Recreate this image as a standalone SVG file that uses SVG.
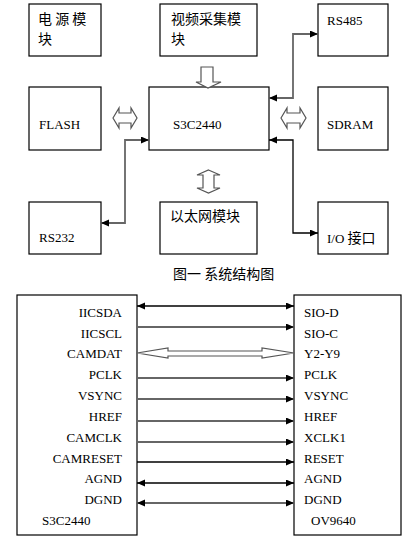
<svg xmlns="http://www.w3.org/2000/svg" width="418" height="541" viewBox="0 0 418 541">
<style>
.box{fill:#fff;stroke:#000;stroke-width:1.2}
.cn{font-family:"Noto Sans CJK SC","Noto Sans",sans-serif;font-size:14px;fill:#000}
.en{font-family:"Liberation Serif","Times New Roman",serif;font-size:13px;fill:#000}
.r{text-anchor:end}
.ln{fill:none;stroke:#000;stroke-width:1.3}
.gl{fill:none;stroke:#666;stroke-width:1.8}
.hol{fill:#fff;stroke:#555;stroke-width:1.2}
</style>
<defs>
<marker id="ah" markerUnits="userSpaceOnUse" markerWidth="9" markerHeight="9" refX="8" refY="3.5" orient="auto-start-reverse">
<path d="M0,0 L8,3.5 L0,7 z" fill="#000"/>
</marker>
</defs>
<rect width="418" height="541" fill="#fff"/>

<g id="power"><rect class="box" x="29" y="4" width="72" height="52"/><text class="cn" x="38" y="24" xml:space="preserve">电 源 模</text><text class="cn" x="38" y="44">块</text></g>
<g id="video"><rect class="box" x="160" y="4" width="97" height="52"/><text class="cn" x="171" y="24">视频采集模</text><text class="cn" x="171" y="44">块</text></g>
<g id="rs485"><rect class="box" x="318" y="4" width="70" height="52"/><text class="en" x="327" y="25">RS485</text></g>
<g id="flash"><rect class="box" x="29" y="87" width="72" height="63"/><text class="en" x="39" y="129">FLASH</text></g>
<g id="s3c2440"><rect class="box" x="149" y="87" width="120" height="63"/><text class="en" x="173" y="129">S3C2440</text></g>
<g id="sdram"><rect class="box" x="318" y="87" width="70" height="63"/><text class="en" x="327" y="129">SDRAM</text></g>
<g id="rs232"><rect class="box" x="29" y="202" width="72" height="52"/><text class="en" x="39" y="242">RS232</text></g>
<g id="ethernet"><rect class="box" x="160" y="202" width="97" height="52"/><text class="cn" x="170" y="221">以太网模块</text></g>
<g id="io"><rect class="box" x="318" y="202" width="70" height="52"/><text class="en" x="327" y="243">I/O <tspan class="cn" style="font-size:14px">接口</tspan></text></g>

<text id="caption" class="cn" x="173" y="279" xml:space="preserve">图一 系统结构图</text>

<g id="cam-s3c2440"><rect class="box" x="17" y="295" width="120" height="240"/>
<text class="en r" x="122" y="317">IICSDA</text>
<text class="en r" x="122" y="338">IICSCL</text>
<text class="en r" x="122" y="358">CAMDAT</text>
<text class="en r" x="122" y="379">PCLK</text>
<text class="en r" x="122" y="400">VSYNC</text>
<text class="en r" x="122" y="421">HREF</text>
<text class="en r" x="122" y="442">CAMCLK</text>
<text class="en r" x="122" y="463">CAMRESET</text>
<text class="en r" x="122" y="483">AGND</text>
<text class="en r" x="122" y="504">DGND</text>
<text class="en" x="42" y="525">S3C2440</text>
</g>
<g id="ov9640"><rect class="box" x="294" y="295" width="107" height="240"/>
<text class="en" x="304" y="317">SIO-D</text>
<text class="en" x="304" y="338">SIO-C</text>
<text class="en" x="304" y="358">Y2-Y9</text>
<text class="en" x="304" y="379">PCLK</text>
<text class="en" x="304" y="400">VSYNC</text>
<text class="en" x="304" y="421">HREF</text>
<text class="en" x="304" y="442">XCLK1</text>
<text class="en" x="304" y="463">RESET</text>
<text class="en" x="304" y="483">AGND</text>
<text class="en" x="304" y="504">DGND</text>
<text class="en" x="311" y="525">OV9640</text>
</g>

<g id="connectors">
<polygon class="hol" points="201,67 213,67 213,82 221,82 208,88 196,82 201,82"/>
<polygon class="hol" points="208.5,170 220,175 214,175 214,188 220,188 208.5,193 197,188 203,188 203,175 197,175"/>
<polygon class="hol" points="113,118 119,108 119,113 131,113 131,108 137,118 131,128 131,123 119,123 119,128"/>
<polygon class="hol" points="281,118 287,108 287,113 300,113 300,108 306,118 300,128 300,123 287,123 287,128"/>
<path class="gl" d="M269,98 H293 V34 H318" marker-start="url(#ah)" marker-end="url(#ah)"/>
<path class="ln" d="M269,140 H293 V233 H318" marker-start="url(#ah)" marker-end="url(#ah)"/>
<path class="gl" d="M149,140 H125 V223 H101" marker-start="url(#ah)" marker-end="url(#ah)"/>

<path class="ln" d="M137,306 H294" marker-start="url(#ah)" marker-end="url(#ah)"/>
<path class="gl" d="M137,327 H294" marker-end="url(#ah)"/>
<polygon class="hol" points="137,353 168,348 168,351 262,351 262,348 294,353 262,358 262,356 168,356 168,358"/>
<path class="gl" d="M137,378 H294" marker-end="url(#ah)"/>
<path class="gl" d="M137,399 H294" marker-end="url(#ah)"/>
<path class="gl" d="M137,421 H294" marker-end="url(#ah)"/>
<path class="gl" d="M137,442 H294" marker-end="url(#ah)"/>
<path class="ln" d="M137,462 H294" marker-end="url(#ah)"/>
<path class="ln" d="M137,483 H294" marker-start="url(#ah)" marker-end="url(#ah)"/>
<path class="gl" d="M137,503 H294" marker-start="url(#ah)" marker-end="url(#ah)"/>
</g>
</svg>
